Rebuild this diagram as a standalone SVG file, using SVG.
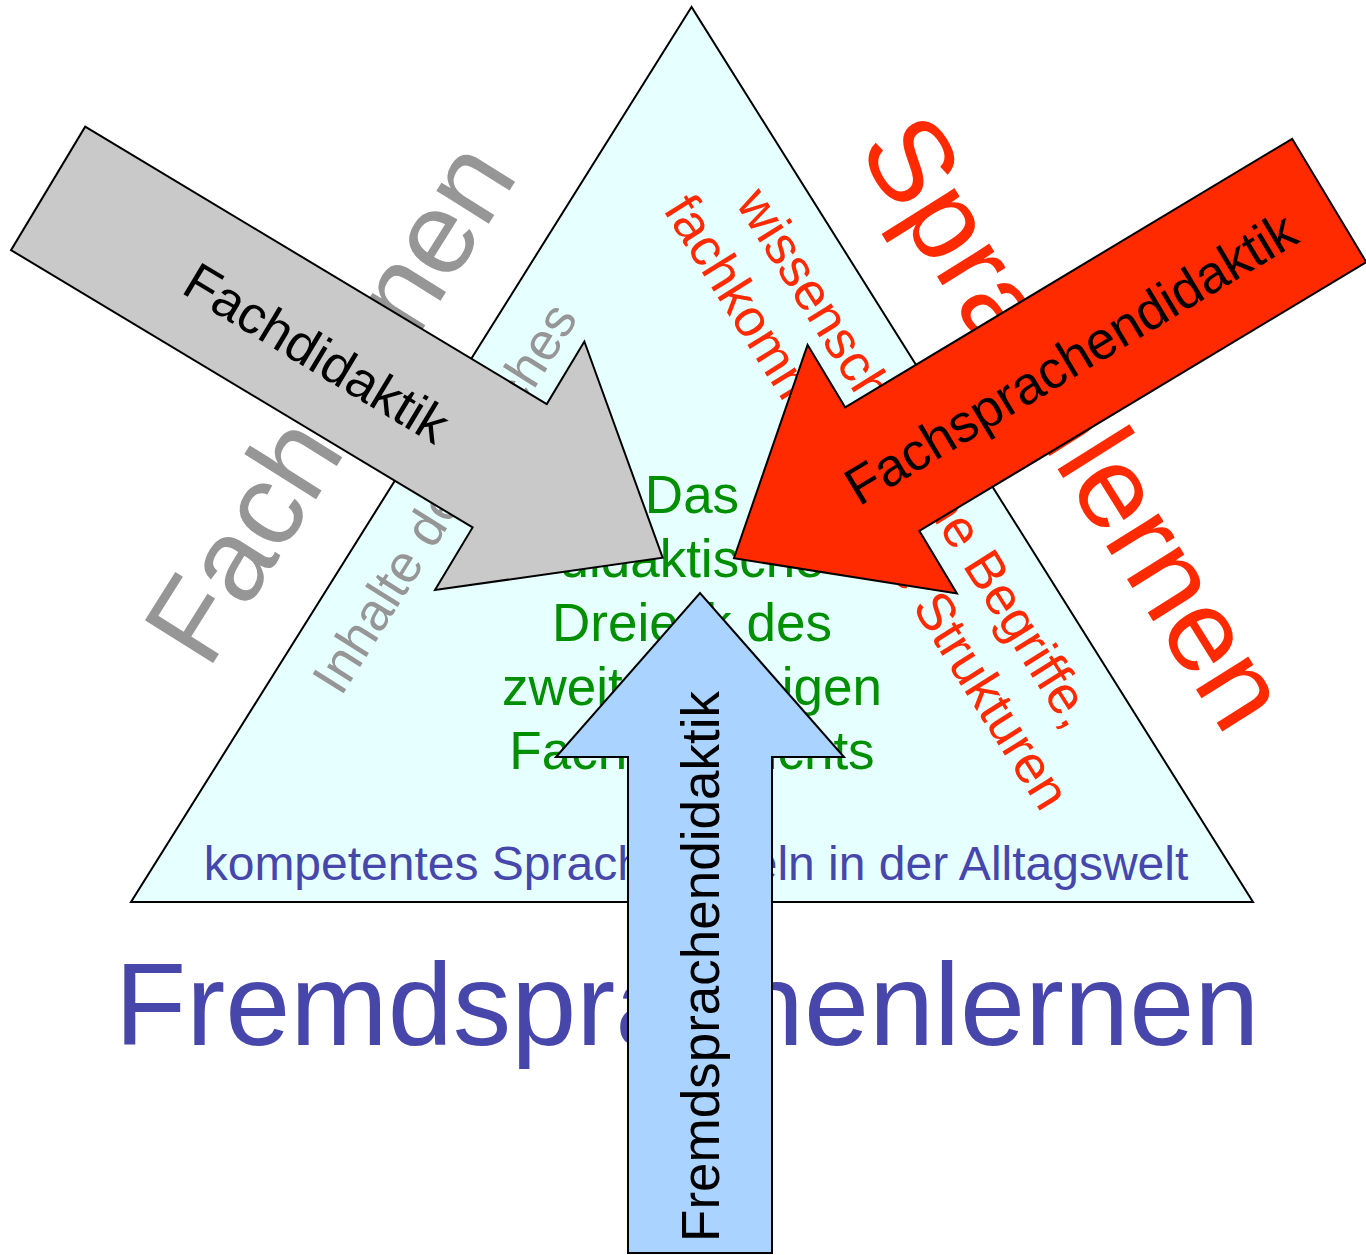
<svg xmlns="http://www.w3.org/2000/svg" width="1366" height="1255" viewBox="0 0 1366 1255">
  <style>
    text { font-family: "Liberation Sans", Arial, sans-serif; }
    .big { font-size: 117px; }
    .mid { font-size: 53px; }
    .gray { fill: #969696; }
    .red { fill: #ff2a00; }
    .blue { fill: #4747ab; }
    .green { fill: #008f00; }
    .dark { fill: #000000; }
    .shape { stroke: #000000; stroke-width: 2; stroke-linejoin: miter; }
  </style>

  <rect width="1366" height="1255" fill="#ffffff"/>

  <!-- the didactic triangle -->
  <g id="triangle">
    <polygon class="shape" points="691.5,7 131,902 1253,902" fill="#e6ffff"/>
  </g>

  <!-- corner labels along the sides -->
  <g id="label-fachlernen">
    <text class="big gray" text-anchor="middle" transform="translate(363.6 423.2) rotate(-57.9)">Fachlernen</text>
  </g>
  <g id="label-sprachlernen">
    <text class="big red" text-anchor="middle" transform="translate(1041.5 443.2) rotate(57.9)">Sprachlernen</text>
  </g>
  <g id="label-fremdsprachenlernen">
    <text class="big blue" text-anchor="middle" x="687" y="1045">Fremdsprachenlernen</text>
  </g>

  <!-- texts inside the triangle -->
  <g id="side-inhalte">
    <text class="mid gray" transform="translate(340.9 697.5) rotate(-57.9)">Inhalte des Faches</text>
  </g>
  <g id="side-begriffe">
    <text class="mid red" transform="translate(735.1 203.1) rotate(57.9)">wissenschaftliche Begriffe,</text>
    <text class="mid red" transform="translate(662.5 209.6) rotate(57.9)">fachkommunikative Strukturen</text>
  </g>
  <g id="side-alltag">
    <text class="blue" font-size="48" text-anchor="middle" x="696" y="880">kompetentes Sprachhandeln in der Alltagswelt</text>
  </g>
  <g id="center-title">
    <text class="mid green" text-anchor="middle" x="692" y="512.5">Das</text>
    <text class="mid green" text-anchor="middle" x="692" y="576.5">didaktische</text>
    <text class="mid green" text-anchor="middle" x="692" y="640.5">Dreieck des</text>
    <text class="mid green" text-anchor="middle" x="692" y="704.5">zweitsprachigen</text>
    <text class="mid green" text-anchor="middle" x="692" y="768.5">Fachunterrichts</text>
  </g>

  <!-- block arrows pointing into the centre -->
  <g id="connectors">
    <g id="arrow-fachdidaktik" transform="translate(48.1 188.4) rotate(31)">
      <polygon class="shape" fill="#c9c9c9" points="0,-72 538.5,-72 538.5,-145 717,0 538.5,145 538.5,72 0,72"/>
      <text class="mid dark" text-anchor="middle" x="315" y="21">Fachdidaktik</text>
    </g>
    <g id="arrow-fachsprachendidaktik">
      <polygon class="shape" fill="#ff2a00" transform="translate(1329.25 200.5) rotate(149)" points="0,-72 521.5,-72 521.5,-145 694.5,0 521.5,145 521.5,72 0,72"/>
      <text class="mid dark" text-anchor="middle" transform="translate(1080 374) rotate(-31)">Fachsprachendidaktik</text>
    </g>
    <g id="arrow-fremdsprachendidaktik">
      <polygon class="shape" fill="#aad4ff" points="628,1253 628,757 556,757 700,593 844,757 772,757 772,1253"/>
      <text class="mid dark" text-anchor="middle" transform="translate(719 966.5) rotate(-90)">Fremdsprachendidaktik</text>
    </g>
  </g>
</svg>
